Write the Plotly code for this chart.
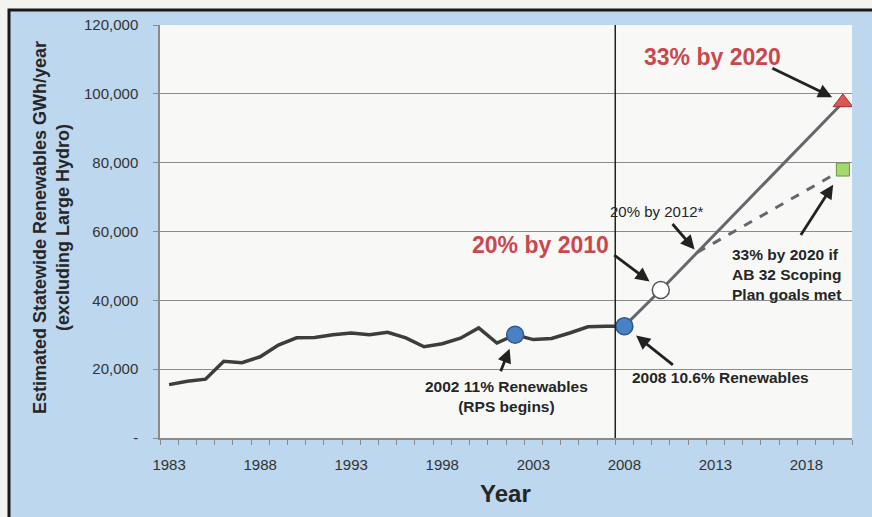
import plotly.graph_objects as go

# Historical statewide renewables (GWh/year, excluding large hydro)
years = list(range(1983, 2009))
renewables_gwh = [15500, 16500, 17100, 22300, 21900, 23600, 27000, 29100, 29200,
                  30000, 30500, 30000, 30700, 29100, 26500, 27400, 29000, 32000,
                  27600, 30000, 28600, 28900, 30500, 32300, 32500, 32500]

# RPS trajectory: 2008 actual -> 20% by 2010 -> 33% by 2020
rps_years = [2008, 2010, 2020]
rps_gwh = [32500, 43000, 97500]

# AB 32 Scoping Plan path
scoping_years = [2012, 2020]
scoping_gwh = [53900, 78000]

# Milestones
rps_start_year, rps_start_gwh = 2002, 30000
actual_2008_year, actual_2008_gwh = 2008, 32500

y_ticks = [0, 20000, 40000, 60000, 80000, 100000, 120000]
y_tick_labels = ["-", "20,000", "40,000", "60,000", "80,000", "100,000", "120,000"]
x_ticks = [1983, 1988, 1993, 1998, 2003, 2008, 2013, 2018]

FONT = "Liberation Sans, Arial, sans-serif"
W, H = 872, 517
ML, MR, MT, MB = 160, 20, 25, 79
PW, PH = W - ML - MR, H - MT - MB


def px_x(px):
    return (px - ML) / PW


def px_y(py):
    return (H - MB - py) / PH


fig = go.Figure()

fig.add_trace(go.Scatter(x=years, y=renewables_gwh, mode="lines",
                         line=dict(color="#3d3d3d", width=3.5), hoverinfo="skip"))
fig.add_trace(go.Scatter(x=rps_years, y=rps_gwh, mode="lines",
                         line=dict(color="#66666f", width=3), hoverinfo="skip"))
fig.add_trace(go.Scatter(x=scoping_years, y=scoping_gwh, mode="lines",
                         line=dict(color="#66666f", width=3, dash="dash"), hoverinfo="skip"))

# markers
fig.add_trace(go.Scatter(x=[rps_start_year, actual_2008_year], y=[rps_start_gwh, actual_2008_gwh],
                         mode="markers",
                         marker=dict(color="#4a80c4", size=17, line=dict(color="#2f5a8c", width=1.5))))
fig.add_trace(go.Scatter(x=[rps_years[1]], y=[rps_gwh[1]], mode="markers",
                         marker=dict(color="#ffffff", size=17, line=dict(color="#555555", width=1.5))))
fig.add_trace(go.Scatter(x=[rps_years[2]], y=[rps_gwh[2]], mode="markers",
                         marker=dict(symbol="triangle-up", color="#dd5552", size=17,
                                     line=dict(color="#9a3030", width=1))))
fig.add_trace(go.Scatter(x=[scoping_years[1]], y=[scoping_gwh[1]], mode="markers",
                         marker=dict(symbol="square", color="#a5d86e", size=13,
                                     line=dict(color="#6a9a40", width=1))))

shapes = [
    # framed light-blue chart panel
    dict(type="rect", xref="paper", yref="paper", layer="below",
         x0=px_x(9), x1=px_x(900), y0=px_y(560), y1=px_y(10),
         fillcolor="#bdd7ee", line=dict(color="#1a1a1a", width=3)),
    # plot area
    dict(type="rect", xref="paper", yref="paper", layer="below",
         x0=0, x1=1, y0=0, y1=1, fillcolor="#f8f8f7", line=dict(width=0)),
    # boundary line before 2008
    dict(type="line", xref="x", yref="paper", x0=2007.5, x1=2007.5, y0=0, y1=1,
         line=dict(color="#222222", width=1.5)),
]

annotations = []


def label(text, px, py, size, color="#262626", bold=True, align="center", xanchor="center"):
    t = f"<b>{text}</b>" if bold else text
    annotations.append(dict(text=t, xref="paper", yref="paper", x=px_x(px), y=px_y(py),
                            xanchor=xanchor, yanchor="middle", align=align, showarrow=False,
                            font=dict(family=FONT, size=size, color=color)))


def arrow(x, y, ax, ay, standoff):
    annotations.append(dict(text="", x=x, y=y, xref="x", yref="y", ax=ax, ay=ay,
                            showarrow=True, arrowhead=2, arrowsize=1, arrowwidth=2.8,
                            arrowcolor="#222222", standoff=standoff))


label("33% by 2020", 712, 57, 23, color="#c9474d")
label("20% by 2010", 540, 245, 23, color="#c9474d")
label("20% by 2012*", 657, 211, 15, bold=False)
label("33% by 2020 if<br>AB 32 Scoping<br>Plan goals met", 730, 274, 15.5,
      align="left", xanchor="left")
label("2002 11% Renewables<br>(RPS begins)", 506, 396, 15.5)
label("2008 10.6% Renewables", 720, 377, 15.5)
label("Year", 505, 493, 24)
annotations.append(dict(text="<b>Estimated Statewide Renewables GWh/year<br>(excluding Large Hydro)</b>",
                        xref="paper", yref="paper", x=px_x(51), y=px_y(228), textangle=-90,
                        xanchor="center", yanchor="middle", showarrow=False,
                        font=dict(family=FONT, size=18, color="#262626")))

arrow(rps_years[2], rps_gwh[2], -72, -35, 12)
arrow(rps_years[1], rps_gwh[1], -48, -36, 14)
arrow(scoping_years[0], scoping_gwh[0], -26, -30, 4)
arrow(scoping_years[1], scoping_gwh[1], -43, 67, 18)
arrow(rps_start_year, rps_start_gwh, -15, 38, 15)
arrow(actual_2008_year, actual_2008_gwh, 50, 40, 15)

fig.update_layout(
    width=W, height=H,
    margin=dict(l=ML, r=MR, t=MT, b=MB, pad=0),
    paper_bgcolor="#f3f3ef",
    plot_bgcolor="rgba(0,0,0,0)",
    showlegend=False,
    shapes=shapes,
    annotations=annotations,
    font=dict(family=FONT, size=15, color="#333333"),
    xaxis=dict(range=[1982.5, 2020.5], tickmode="array", tickvals=x_ticks,
               ticks="", showgrid=False, zeroline=False,
               showline=True, linecolor="#8a8a8a", linewidth=1.5,
               ticklabelstandoff=12,
               minor=dict(tickmode="linear", tick0=1982.5, dtick=1, ticks="outside",
                          ticklen=5, tickwidth=1.2, tickcolor="#8a8a8a", showgrid=False),
               tickfont=dict(family=FONT, size=15, color="#333333")),
    yaxis=dict(range=[0, 120000], tickmode="array", tickvals=y_ticks, ticktext=y_tick_labels,
               ticks="outside", ticklen=5, tickwidth=1.2, tickcolor="#8a8a8a",
               showgrid=True, gridcolor="#8c8c8c", gridwidth=1.2, zeroline=False,
               showline=True, linecolor="#8a8a8a", linewidth=1.5,
               ticklabelstandoff=12,
               tickfont=dict(family=FONT, size=15, color="#333333")),
)

fig.write_html("out.html")
